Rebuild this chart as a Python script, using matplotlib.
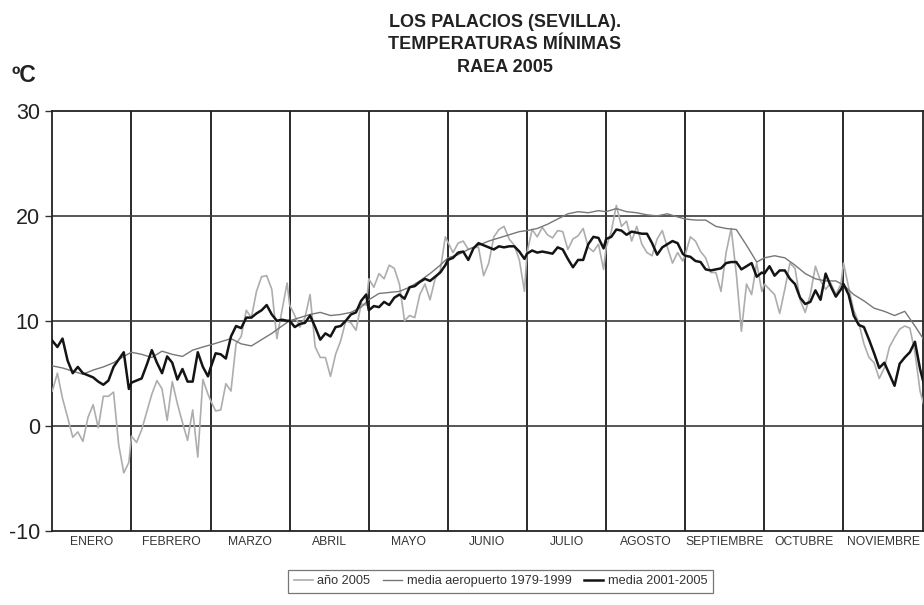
import matplotlib
matplotlib.use("Agg")
import matplotlib.pyplot as plt
import numpy as np

plt.rcParams['font.family'] = ['Liberation Sans', 'DejaVu Sans']

months = ["ENERO", "FEBRERO", "MARZO", "ABRIL", "MAYO", "JUNIO", "JULIO",
          "AGOSTO", "SEPTIEMBRE", "OCTUBRE", "NOVIEMBRE"]
days_per_month_axis = 31

# año 2005 : one reading every 2 days within each month
anio_2005 = [
    [3.3, 5.0, 2.6, 0.8, -1.1, -0.6, -1.5, 0.8, 2.0, -0.2, 2.8, 2.8, 3.2, -1.8, -4.5, -3.5],
    [-1.0, -1.6, -0.4, 1.3, 3.0, 4.3, 3.5, 0.5, 4.2, 2.1, 0.3, -1.4, 1.5, -3.0, 4.4, 3.0],
    [2.4, 1.4, 1.5, 4.0, 3.3, 7.8, 8.5, 11.0, 10.3, 12.8, 14.2, 14.3, 13.0, 8.3, 11.0, 13.6],
    [11.5, 10.5, 9.4, 10.3, 12.5, 7.5, 6.5, 6.5, 4.7, 6.8, 8.1, 10.0, 9.8, 9.1, 11.6, 11.5],
    [14.0, 13.2, 14.5, 14.0, 15.3, 15.0, 13.5, 10.0, 10.5, 10.3, 12.5, 13.5, 12.0, 14.0, 14.8, 18.0],
    [17.5, 16.5, 17.4, 17.6, 16.8, 17.0, 17.0, 14.3, 15.5, 18.0, 18.7, 19.0, 17.8, 17.2, 15.8, 12.8],
    [16.5, 18.7, 18.0, 18.9, 18.2, 17.9, 18.6, 18.5, 16.8, 17.8, 18.1, 18.8, 17.0, 16.6, 17.3, 14.9],
    [17.0, 18.5, 21.0, 19.0, 19.5, 17.6, 19.0, 17.3, 16.5, 16.2, 17.8, 18.6, 17.0, 15.5, 16.5, 15.7],
    [16.3, 18.0, 17.6, 16.6, 16.0, 14.6, 14.6, 12.8, 16.5, 18.8, 14.5, 9.0, 13.5, 12.5, 15.5, 12.8],
    [13.5, 13.0, 12.5, 10.7, 13.0, 15.5, 15.0, 12.0, 10.8, 12.5, 15.2, 13.8, 13.0, 13.6, 12.5, 13.5],
    [15.5, 13.2, 11.0, 9.8, 7.8, 6.5, 6.0, 4.5, 5.5, 7.5, 8.4, 9.2, 9.5, 9.3, 7.0, 3.3, 1.5],
]

# media aeropuerto 1979-1999 : one reading every 4 days within each month
media_aeropuerto = [
    [5.7, 5.5, 5.2, 4.9, 5.3, 5.6, 6.0, 6.6],
    [7.0, 6.8, 6.5, 7.1, 6.8, 6.6, 7.2, 7.5],
    [7.7, 8.0, 8.3, 7.8, 7.6, 8.2, 8.8, 9.5],
    [10.0, 10.3, 10.6, 10.8, 10.5, 10.6, 10.8, 11.3],
    [12.0, 12.6, 12.7, 12.8, 13.2, 13.8, 14.5, 15.3],
    [16.0, 16.3, 16.8, 17.2, 17.6, 17.9, 18.2, 18.5],
    [18.6, 18.8, 19.2, 19.7, 20.2, 20.4, 20.3, 20.5],
    [20.4, 20.7, 20.4, 20.3, 20.1, 20.0, 20.2, 19.9],
    [19.7, 19.6, 19.6, 19.0, 18.8, 18.7, 17.2, 15.6],
    [16.0, 16.2, 16.0, 15.3, 14.5, 14.0, 13.8, 13.8],
    [13.4, 12.5, 11.9, 11.2, 10.9, 10.5, 10.9, 9.5, 8.0],
]

# media 2001-2005 : one reading every 2 days within each month
media_2001_2005 = [
    [8.1, 7.5, 8.3, 6.2, 5.0, 5.6, 5.0, 4.8, 4.6, 4.2, 3.9, 4.3, 5.6, 6.3, 7.0, 3.5],
    [4.1, 4.3, 4.5, 5.8, 7.2, 6.0, 5.0, 6.6, 6.0, 4.4, 5.4, 4.2, 4.2, 7.0, 5.6, 4.7],
    [5.5, 6.9, 6.8, 6.4, 8.5, 9.5, 9.3, 10.3, 10.3, 10.7, 11.0, 11.5, 10.6, 10.0, 10.1, 10.0],
    [10.0, 9.4, 9.7, 9.8, 10.5, 9.4, 8.2, 8.8, 8.5, 9.4, 9.5, 10.0, 10.6, 10.8, 11.9, 12.5],
    [11.0, 11.4, 11.3, 11.8, 11.5, 12.2, 12.5, 12.1, 13.2, 13.3, 13.7, 14.0, 13.8, 14.2, 14.6, 15.3],
    [15.8, 16.0, 16.5, 16.6, 15.8, 16.9, 17.4, 17.2, 17.0, 16.8, 17.1, 17.0, 17.1, 17.1, 16.6, 15.9],
    [16.4, 16.7, 16.5, 16.6, 16.5, 16.4, 17.0, 16.8, 15.9, 15.1, 15.8, 15.8, 17.3, 18.0, 17.9, 16.9],
    [17.8, 18.0, 18.7, 18.6, 18.2, 18.5, 18.4, 18.3, 18.3, 17.4, 16.3, 17.0, 17.3, 17.6, 17.4, 16.4],
    [16.2, 16.1, 15.7, 15.6, 14.9, 14.8, 14.9, 15.0, 15.5, 15.6, 15.6, 14.9, 15.2, 15.5, 14.2, 14.6],
    [14.5, 15.2, 14.3, 14.8, 14.8, 14.0, 13.5, 12.2, 11.6, 11.8, 12.9, 12.0, 14.5, 13.3, 12.3, 13.0],
    [13.5, 12.5, 10.5, 9.6, 9.4, 8.2, 6.9, 5.5, 6.0, 4.9, 3.8, 5.9, 6.5, 7.0, 8.0, 5.4, 3.5],
]


def to_series(monthly, step):
    xs, ys = [], []
    for m, vals in enumerate(monthly):
        for i, v in enumerate(vals):
            xs.append(m * days_per_month_axis + i * step)
            ys.append(v)
    return np.array(xs), np.array(ys)


fig = plt.figure(figsize=(9.24, 6.05), dpi=100)
ax = fig.add_axes([0.0566, 0.1231, 0.9419, 0.6934])

x1, y1 = to_series(anio_2005, 2)
x2, y2 = to_series(media_aeropuerto, 4)
x3, y3 = to_series(media_2001_2005, 2)

l1, = ax.plot(x1, y1, color='#adadad', lw=1.2, label='año 2005', zorder=3)
l2, = ax.plot(x2, y2, color='#777777', lw=1.0, label='media aeropuerto 1979-1999', zorder=4)
l3, = ax.plot(x3, y3, color='#141414', lw=1.8, label='media 2001-2005', zorder=5)

nm = len(months)
ax.set_xlim(0, nm * days_per_month_axis)
ax.set_ylim(-10, 30)

for k in range(1, nm):
    ax.axvline(k * days_per_month_axis, color='#2a2a2a', lw=1.4, zorder=2)
for yv in (0, 10, 20):
    ax.axhline(yv, color='#3a3a3a', lw=1.2, zorder=2)

ax.set_yticks([-10, 0, 10, 20, 30])
ax.set_yticklabels(['-10', '0', '10', '20', '30'], fontsize=15.5, color='#222222')
ax.tick_params(axis='y', length=5, width=1.0, color='#333333', pad=4)
ax.set_xticks([])
for m, name in enumerate(months):
    ax.text(m * days_per_month_axis + days_per_month_axis / 2, -11.1, name,
            ha='center', va='center', fontsize=8.7, color='#333333')

for s in ax.spines.values():
    s.set_color('#222222')
    s.set_linewidth(1.3)

title_x = 0.5465
fig.text(title_x, 0.963, 'LOS PALACIOS (SEVILLA).', ha='center', va='center',
         fontsize=13, fontweight='bold', color='#222222')
fig.text(title_x, 0.926, 'TEMPERATURAS MÍNIMAS', ha='center', va='center',
         fontsize=13, fontweight='bold', color='#222222')
fig.text(title_x, 0.889, 'RAEA 2005', ha='center', va='center',
         fontsize=13, fontweight='bold', color='#222222')
fig.text(0.012, 0.876, 'ºC', ha='left', va='center', fontsize=16.5,
         fontweight='bold', color='#222222')

leg = fig.legend(handles=[l1, l2, l3], loc='center', bbox_to_anchor=(0.5417, 0.039),
                 ncol=3, frameon=True, fontsize=9.2, handlelength=1.5,
                 columnspacing=1.0, handletextpad=0.35, borderpad=0.45,
                 fancybox=False, edgecolor='#555555')
leg.get_frame().set_linewidth(0.9)
for t in leg.get_texts():
    t.set_color('#333333')

fig.savefig('out.png', dpi=100)
